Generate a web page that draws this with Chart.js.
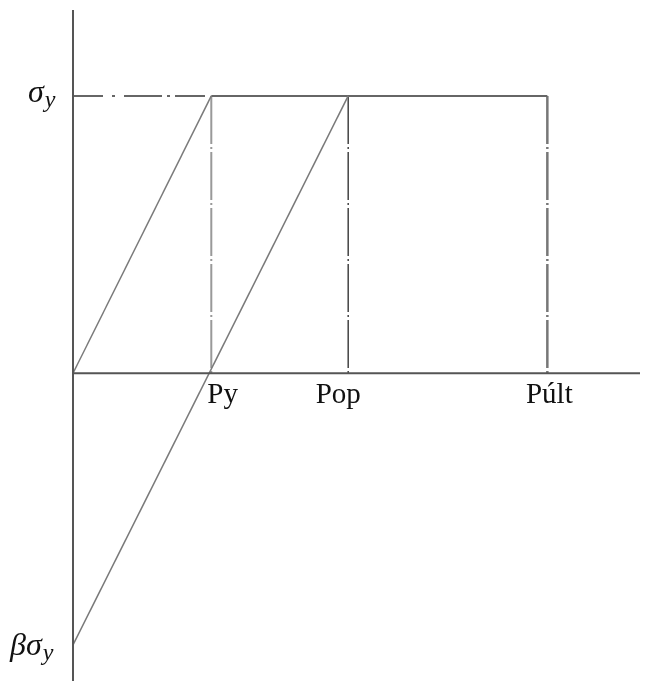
<!DOCTYPE html>
<html>
<head>
<meta charset="utf-8">
<script src="https://cdn.jsdelivr.net/npm/chart.js@4.4.1/dist/chart.umd.min.js"></script>
<style>
  html, body { margin: 0; padding: 0; background: #fff; }
  #wrap { width: 645px; height: 681px; }
</style>
</head>
<body>
<div id="wrap"><canvas id="chart" width="645" height="681"></canvas></div>
<script>
// Idealised stress / load diagram
const pointLabels = ['Py', 'Pop', 'Púlt'];
const pointLoads = [1, 1.99, 3.43];
const yieldStress = 1;        // σy
const reloadStress = -0.98;   // βσy
const axisRange = { xMax: 4.1, yMin: -1.11, yMax: 1.31 };

const [py, pop, pult] = pointLoads;

const lineGrey = '#7a7a7a';
const axisGrey = '#555';
const dashDot = [48, 3, 2, 3];

function seg(points, color, dash, width) {
  return {
    data: points.map(([x, y]) => ({ x, y })),
    borderColor: color,
    borderWidth: width || 1.5,
    borderDash: dash || [],
    pointRadius: 0,
    tension: 0,
    clip: false
  };
}

const datasets = [
  // axes
  seg([[0, 0], [axisRange.xMax, 0]], axisGrey, null, 2),
  seg([[0, axisRange.yMax], [0, axisRange.yMin]], axisGrey, null, 2),
  // elastic branch and reload branch
  seg([[0, 0], [py, yieldStress]], lineGrey),
  seg([[0, reloadStress], [pop, yieldStress]], lineGrey),
  // yield plateau
  seg([[0, yieldStress], [py, yieldStress]], '#666', [30, 9, 3, 9, 38, 5, 3, 5], 2),
  seg([[py, yieldStress], [pult, yieldStress]], '#666', null, 2),
  // drop lines
  seg([[py, yieldStress], [py, 0]], '#999', dashDot, 2),
  seg([[pop, yieldStress], [pop, 0]], '#444', dashDot, 1.5),
  seg([[pult, yieldStress], [pult, 0]], '#777', dashDot, 2.5)
];

const labelOffsets = [
  { dx: -4, align: 'left' },
  { dx: -10, align: 'center' },
  { dx: 2, align: 'center' }
];

function drawSymbol(ctx, x, y, main, sub) {
  ctx.font = 'italic 32px "Liberation Serif", serif';
  ctx.textAlign = 'left';
  ctx.textBaseline = 'alphabetic';
  ctx.fillText(main, x, y);
  const w = ctx.measureText(main).width;
  ctx.font = 'italic 24px "Liberation Serif", serif';
  ctx.fillText(sub, x + w + 1, y + 5);
}

const labelPlugin = {
  id: 'labels',
  afterDatasetsDraw(chart) {
    const { ctx, scales: { x, y } } = chart;
    ctx.save();
    ctx.fillStyle = '#111';
    ctx.font = '29px "Liberation Serif", serif';
    ctx.textBaseline = 'alphabetic';
    const base = y.getPixelForValue(0) + 30;
    pointLabels.forEach((text, i) => {
      const o = labelOffsets[i];
      ctx.textAlign = o.align;
      ctx.fillText(text, x.getPixelForValue(pointLoads[i]) + o.dx, base);
    });
    const left = x.getPixelForValue(0);
    drawSymbol(ctx, left - 45, y.getPixelForValue(yieldStress) + 6, 'σ', 'y');
    drawSymbol(ctx, left - 63, y.getPixelForValue(reloadStress) + 10, 'βσ', 'y');
    ctx.restore();
  }
};

new Chart(document.getElementById('chart'), {
  type: 'line',
  data: { datasets },
  options: {
    responsive: false,
    animation: false,
    layout: { padding: { left: 73, right: 5, top: 10, bottom: 0 } },
    plugins: { legend: { display: false }, tooltip: { enabled: false } },
    scales: {
      x: { type: 'linear', display: false, min: 0, max: axisRange.xMax },
      y: { type: 'linear', display: false, min: axisRange.yMin, max: axisRange.yMax }
    }
  },
  plugins: [labelPlugin]
});
</script>
</body>
</html>
